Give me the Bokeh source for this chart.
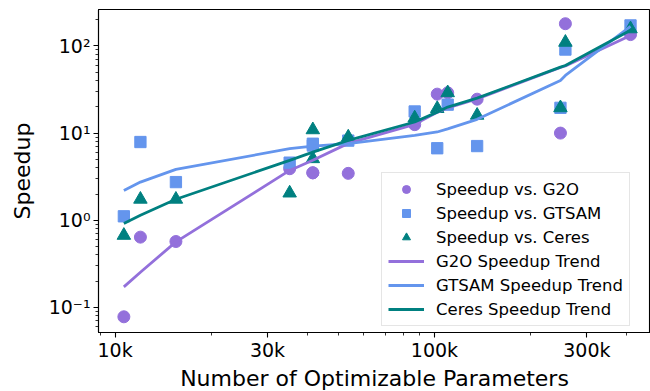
from bokeh.plotting import figure
from bokeh.models import FixedTicker, Range1d, Legend, LegendItem, Title
from bokeh.embed import file_html
from bokeh.resources import INLINE

# ---- data ----
params = [10650, 12000, 15500, 35200, 41600, 41600, 53700, 86700, 102000, 110000, 136000, 248000, 257000, 411000]
speedup_g2o = [0.078, 0.64, 0.57, 3.9, 3.5, 3.5, 3.45, 12.5, 28.0, 29.0, 24.5, 10.0, 180.0, 135.0]
speedup_gtsam = [1.11, 7.9, 2.74, 4.58, 7.55, 7.2, 8.2, 17.7, 6.7, 21.2, 7.1, 19.5, 91.0, 172.0]
speedup_ceres = [0.67, 1.74, 1.74, 2.05, 10.9, 5.08, 9.0, 14.9, 19.1, 29.0, 16.0, 19.5, 110.0, 157.0]

trend_g2o = [0.172, 0.253, 0.565, 3.73, 4.87, 4.87, 7.62, 12.6, 17.3, 19.5, 24.7, 56.6, 59.0, 132.0]
trend_gtsam = [2.20, 2.74, 3.84, 6.62, 7.10, 7.10, 7.55, 9.42, 10.3, 11.2, 14.4, 40.2, 45.9, 168.0]
trend_ceres = [0.92, 1.14, 1.74, 4.87, 6.05, 6.05, 8.24, 13.4, 17.4, 19.9, 25.2, 57.2, 59.7, 151.0]

x_ticks = [1e4, 3e4, 1e5, 3e5]
x_tick_labels = ["10k", "30k", "100k", "300k"]
y_ticks = [0.1, 1.0, 10.0, 100.0]
y_tick_labels = ["10\u207b\u00b9", "10\u2070", "10\u00b9", "10\u00b2"]

x_title = "Number of Optimizable Parameters"
y_title = "Speedup"

C_G2O = "#9370DB"
C_GTSAM = "#6495ED"
C_CERES = "#008080"
FONT = "DejaVu Sans"

p = figure(width=650, height=391, x_axis_type="log", y_axis_type="log",
           x_range=Range1d(8870, 474700), y_range=Range1d(0.0515, 262),
           output_backend="svg", toolbar_location=None,
           min_border_left=98, min_border_right=0, min_border_top=9, min_border_bottom=59)

p.xgrid.visible = False
p.ygrid.visible = False
p.outline_line_color = "black"
p.outline_line_width = 1.1
p.background_fill_color = "white"
p.border_fill_color = "white"

# ticks
x_minor = [m * 10 ** e for e in (3, 4, 5) for m in range(2, 10) if m != 3]
y_minor = [m * 10.0 ** e for e in (-2, -1, 0, 1, 2) for m in range(2, 10)]
p.xaxis.ticker = FixedTicker(ticks=x_ticks, minor_ticks=x_minor)
p.yaxis.ticker = FixedTicker(ticks=y_ticks, minor_ticks=y_minor)
p.xaxis.major_label_overrides = {t: l for t, l in zip(x_ticks, x_tick_labels)}
p.yaxis.major_label_overrides = {t: l for t, l in zip(y_ticks, y_tick_labels)}

for ax in (p.xaxis[0], p.yaxis[0]):
    ax.axis_line_color = "black"
    ax.axis_line_width = 1.1
    ax.major_tick_line_color = "black"
    ax.minor_tick_line_color = "black"
    ax.major_tick_line_width = 1.1
    ax.minor_tick_line_width = 0.8
    ax.major_tick_out = 5
    ax.major_tick_in = 0
    ax.minor_tick_out = 3
    ax.minor_tick_in = 0
    ax.major_label_text_font = FONT
    ax.major_label_text_font_size = "19px"
    ax.major_label_text_color = "black"
p.xaxis.major_label_standoff = 1
p.yaxis.major_label_standoff = 3

# axis titles as side-panel titles
xt = Title(text=x_title, align="center", text_font=FONT, text_font_size="22px",
           text_font_style="normal", text_color="black", standoff=0)
p.add_layout(xt, "below")
yt = Title(text=y_title, align="center", vertical_align="top", text_font=FONT,
           text_font_size="22px", text_font_style="normal", text_color="black", standoff=18)
p.add_layout(yt, "left")

# scatter markers
r1 = p.scatter(params, speedup_g2o, marker="circle", size=12, color=C_G2O)
r2 = p.scatter(params, speedup_gtsam, marker="square", size=11.3, color=C_GTSAM)
r3 = p.scatter(params, speedup_ceres, marker="triangle", size=13.5, color=C_CERES)

# trend lines
l1 = p.line(params, trend_g2o, line_color=C_G2O, line_width=2.8)
l2 = p.line(params, trend_gtsam, line_color=C_GTSAM, line_width=2.8)
l3 = p.line(params, trend_ceres, line_color=C_CERES, line_width=2.8)

legend = Legend(items=[
    LegendItem(label="Speedup vs. G2O", renderers=[r1]),
    LegendItem(label="Speedup vs. GTSAM", renderers=[r2]),
    LegendItem(label="Speedup vs. Ceres", renderers=[r3]),
    LegendItem(label="G2O Speedup Trend", renderers=[l1]),
    LegendItem(label="GTSAM Speedup Trend", renderers=[l2]),
    LegendItem(label="Ceres Speedup Trend", renderers=[l3]),
], location=(283, 6))
legend.label_text_font = FONT
legend.label_text_font_size = "16.5px"
legend.label_text_color = "black"
legend.glyph_width = 36
legend.glyph_height = 20
legend.label_height = 20
legend.label_standoff = 12
legend.spacing = 4
legend.padding = 6
legend.margin = 0
legend.border_line_color = "#cccccc"
legend.border_line_width = 1
legend.background_fill_color = "white"
legend.background_fill_alpha = 0.8
p.add_layout(legend)

open("out.html", "w").write(file_html(p, INLINE))
